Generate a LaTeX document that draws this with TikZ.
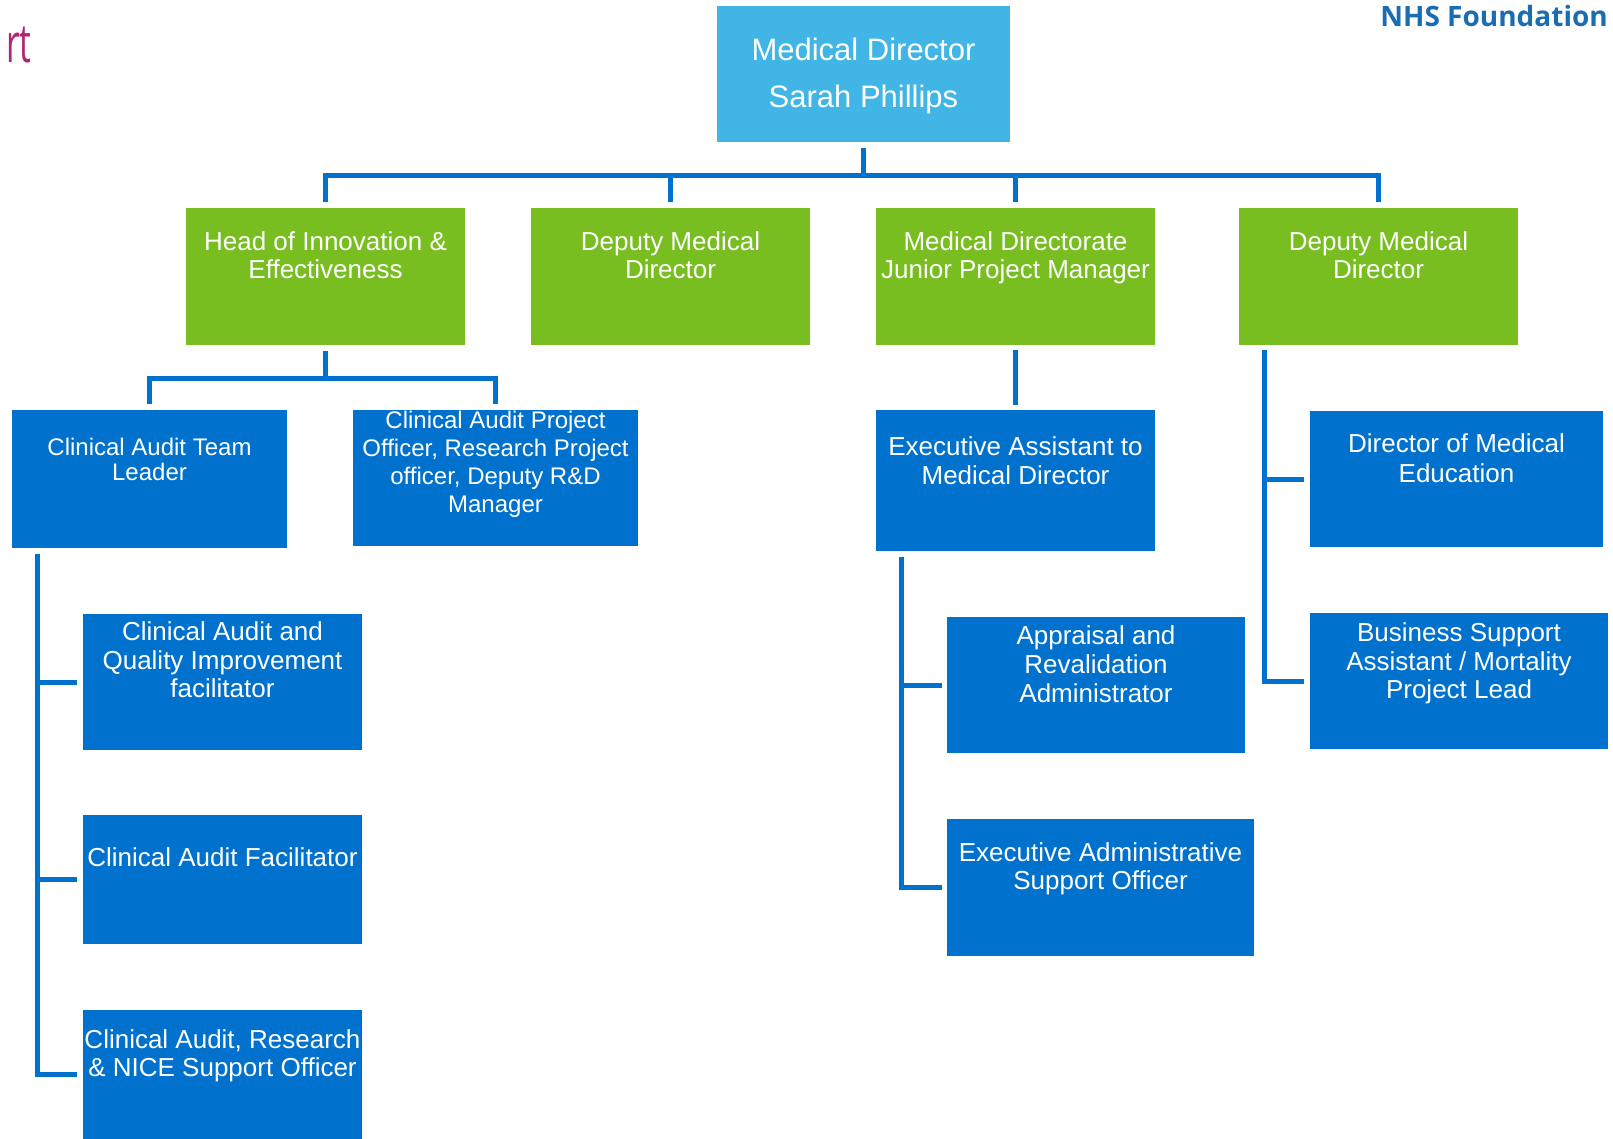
\documentclass[tikz,border=0pt]{standalone}
\usepackage{fontspec}
\usepackage{graphicx}
\setmainfont{Liberation Sans}
\newfontfamily\nhsfont{Open Sans}
\usetikzlibrary{calc}
\definecolor{mdblue}{HTML}{41B6E6}
\definecolor{nhsgreen}{HTML}{78BE20}
\definecolor{nhsblue}{HTML}{0072CE}
\definecolor{nhspink}{HTML}{AE2573}
\definecolor{nhsdark}{HTML}{1A6DB3}
\begin{document}
\begin{tikzpicture}[x=1pt,y=-1pt,
  box/.style={draw=none, inner sep=0pt, outer sep=0pt, anchor=north west, rectangle},
  topbox/.style={box, fill=mdblue},
  greenbox/.style={box, fill=nhsgreen},
  bluebox/.style={box, fill=nhsblue},
  boxtext/.style={text=white, align=center, inner sep=0pt, outer sep=0pt, anchor=north},
  big/.style={font=\fontsize{31}{47}\selectfont},
  mid/.style={font=\fontsize{26}{28.5}\selectfont},
  small/.style={font=\fontsize{24}{28}\selectfont},
  conn/.style={draw=nhsblue, line width=5pt, line join=miter},
]
\useasboundingbox (0,0) rectangle (1613,1139);

% titles
\node[font=\nhsfont\bfseries\fontsize{28}{30}\selectfont, text=nhsdark, anchor=base east, inner sep=0pt] (nhs) at (1608,27) {NHS Foundation};
\node[font=\nhsfont\fontsize{54}{54}\selectfont, text=nhspink, anchor=base east, inner sep=0pt] (ttl) at (32,63) {\scalebox{0.62}[1]{rt}};

% boxes
\node[topbox, minimum width=293pt, minimum height=136pt] (md) at (717,6) {};
\node[greenbox, minimum width=279pt, minimum height=137pt] (hie) at (186,208) {};
\node[greenbox, minimum width=279pt, minimum height=137pt] (dmd1) at (531,208) {};
\node[greenbox, minimum width=279pt, minimum height=137pt] (jpm) at (876,208) {};
\node[greenbox, minimum width=279pt, minimum height=137pt] (dmd2) at (1239,208) {};
\node[bluebox, minimum width=275pt, minimum height=138pt] (cat) at (12,410) {};
\node[bluebox, minimum width=285pt, minimum height=136pt] (cap) at (353,410) {};
\node[bluebox, minimum width=279pt, minimum height=141pt] (ea) at (876,410) {};
\node[bluebox, minimum width=293pt, minimum height=136pt] (dme) at (1310,411) {};
\node[bluebox, minimum width=298pt, minimum height=136pt] (bsa) at (1310,613) {};
\node[bluebox, minimum width=279pt, minimum height=136pt] (qi) at (83,614) {};
\node[bluebox, minimum width=279pt, minimum height=129pt] (fac) at (83,815) {};
\node[bluebox, minimum width=279pt, minimum height=129pt] (nice) at (83,1010) {};
\node[bluebox, minimum width=298pt, minimum height=136pt] (appr) at (947,617) {};
\node[bluebox, minimum width=307pt, minimum height=137pt] (easo) at (947,819) {};

% texts
\node[boxtext, big] (mdT) at (md.north |- 0,38) {Medical Director\\Sarah Phillips};
\node[boxtext, mid, font=\fontsize{26}{28}\selectfont] (hieT) at (hie.north |- 0,232) {Head of Innovation \&\\Effectiveness};
\node[boxtext, mid, font=\fontsize{26}{28}\selectfont] (dmd1T) at (dmd1.north |- 0,232) {Deputy Medical\\Director};
\node[boxtext, mid, font=\fontsize{26}{28}\selectfont] (jpmT) at (jpm.north |- 0,232) {Medical Directorate\\Junior Project Manager};
\node[boxtext, mid, font=\fontsize{26}{28}\selectfont] (dmd2T) at (dmd2.north |- 0,232) {Deputy Medical\\Director};
\node[boxtext, small, font=\fontsize{24}{25}\selectfont] (catT) at (cat.north |- 0,438) {Clinical Audit Team\\Leader};
\node[boxtext, small] (capT) at (cap.north |- 0,411) {Clinical Audit Project\\Officer, Research Project\\officer, Deputy R\&D\\Manager};
\node[boxtext, mid, font=\fontsize{26}{29}\selectfont] (eaT) at (ea.north |- 0,437) {Executive Assistant to\\Medical Director};
\node[boxtext, mid, font=\fontsize{26}{29.5}\selectfont] (dmeT) at (dme.north |- 0,434) {Director of Medical\\Education};
\node[boxtext, mid] (bsaT) at (bsa.north |- 0,623) {Business Support\\Assistant / Mortality\\Project Lead};
\node[boxtext, mid] (qiT) at (qi.north |- 0,622) {Clinical Audit and\\Quality Improvement\\facilitator};
\node[boxtext, mid] (facT) at (fac.north |- 0,848) {Clinical Audit Facilitator};
\node[boxtext, mid, font=\fontsize{26}{28}\selectfont] (niceT) at (nice.north |- 0,1030) {Clinical Audit, Research\\\& NICE Support Officer};
\node[boxtext, mid, font=\fontsize{26}{29}\selectfont] (apprT) at (appr.north |- 0,626) {Appraisal and\\Revalidation\\Administrator};
\node[boxtext, mid, font=\fontsize{26}{28}\selectfont] (easoT) at (easo.north |- 0,843) {Executive Administrative\\Support Officer};

% connectors: level 1 -> 2
\coordinate (bar) at (864,175.5);
\draw[conn, shorten <=6pt] (md.south) -- (md.south |- bar);
\draw[conn, shorten <=6pt, shorten >=6pt] (hie.north) |- (dmd2.north |- bar) -- (dmd2.north);
\draw[conn, shorten >=6pt] (dmd1.north |- bar) -- (dmd1.north);
\draw[conn, shorten >=6pt] (jpm.north |- bar) -- (jpm.north);

% head of innovation -> level 3
\coordinate (bar2) at (325,378);
\draw[conn, shorten <=6pt] (hie.south) -- (hie.south |- bar2);
\draw[conn, shorten <=6pt, shorten >=6pt] (cat.north) |- (cap.north |- bar2) -- (cap.north);

% junior project manager -> executive assistant
\draw[conn, shorten <=5pt, shorten >=5pt] (jpm.south) -- (ea.north);

% deputy medical director (right) bracket
\coordinate (d2s) at ($(dmd2.south west)+(25,5)$);
\draw[conn, shorten >=6pt] (d2s) |- (dme.west);
\draw[conn, shorten >=6pt] (d2s) |- (bsa.west);

% clinical audit team leader bracket
\coordinate (cats) at ($(cat.south west)+(25,6)$);
\draw[conn, shorten >=6pt] (cats) |- (qi.west);
\draw[conn, shorten >=6pt] (cats) |- (fac.west);
\draw[conn, shorten >=6pt] (cats) |- (nice.west);

% executive assistant bracket
\coordinate (eas) at ($(ea.south west)+(25,6)$);
\draw[conn, shorten >=5pt] (eas) |- (appr.west);
\draw[conn, shorten >=5pt] (eas) |- (easo.west);
\end{tikzpicture}
\end{document}
